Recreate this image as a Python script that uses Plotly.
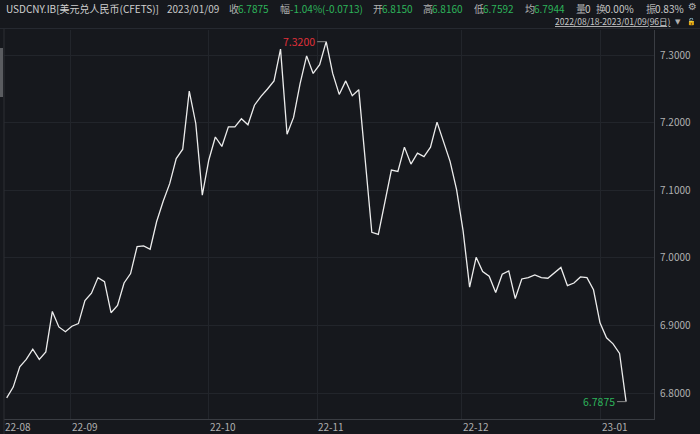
import plotly.graph_objects as go

# ---- data ----
values = [6.793, 6.809, 6.839, 6.850, 6.865, 6.850, 6.861, 6.921, 6.898, 6.891,
          6.899, 6.903, 6.937, 6.948, 6.971, 6.965, 6.919, 6.930, 6.963, 6.977,
          7.017, 7.018, 7.013, 7.054, 7.084, 7.110, 7.147, 7.161, 7.247, 7.199,
          7.093, 7.145, 7.179, 7.165, 7.194, 7.194, 7.206, 7.197, 7.226, 7.239,
          7.250, 7.262, 7.309, 7.183, 7.208, 7.258, 7.299, 7.273, 7.286, 7.320,
          7.273, 7.242, 7.262, 7.240, 7.249, 7.143, 7.038, 7.035, 7.083, 7.130,
          7.128, 7.164, 7.139, 7.155, 7.150, 7.164, 7.201, 7.172, 7.143, 7.101,
          7.040, 6.957, 7.001, 6.980, 6.973, 6.949, 6.976, 6.981, 6.940, 6.969,
          6.971, 6.975, 6.971, 6.970, 6.978, 6.986, 6.959, 6.963, 6.972, 6.971,
          6.953, 6.904, 6.882, 6.873, 6.8588, 6.7875]
idx = list(range(len(values)))
month_labels = ["22-08", "22-09", "22-10", "22-11", "22-12", "23-01"]
month_pos = [-0.35, 9.85, 31.0, 47.6, 69.8, 91.1]
y_ticks = [6.8, 6.9, 7.0, 7.1, 7.2, 7.3]

BG = "#16181d"
GRID = "#22252b"
AX = "#3a3d43"
TXT = "#b0b0b0"
GREEN = "#2db35a"
RED = "#e0303a"
FONT = "Noto Sans CJK SC"

# plot box in pixels
L, R, T, B = 4, 654, 30, 419
W, H = 700, 434
XR = [-0.414, 99.28]
YR = [6.7618, 7.3373]

def px(x):
    return (x - L) / (R - L)

def py(y):
    return (B - y) / (B - T)

def xpaper(v):
    return (v - XR[0]) / (XR[1] - XR[0])

fig = go.Figure()
fig.add_trace(go.Scatter(x=idx, y=values, mode="lines",
                         line=dict(color="#ececec", width=1.3),
                         hoverinfo="skip", showlegend=False))

ann = []
# max / min markers
imax = max(idx, key=lambda i: values[i])
imin = min(idx, key=lambda i: values[i])
ann.append(dict(x=imax, y=values[imax], xref="x", yref="y", text="%.4f" % values[imax],
                showarrow=True, arrowhead=0, arrowcolor="#8a8a8a", arrowwidth=1,
                ax=-9, ay=0, xanchor="right", font=dict(color=RED, size=10.5, family=FONT)))
ann.append(dict(x=imin, y=values[imin], xref="x", yref="y", text="%.4f" % values[imin],
                showarrow=True, arrowhead=0, arrowcolor="#8a8a8a", arrowwidth=1,
                ax=-9, ay=0, xanchor="right", font=dict(color=GREEN, size=10.5, family=FONT)))

# month labels (left aligned at gridlines)
for lab, pos in zip(month_labels, month_pos):
    ann.append(dict(x=xpaper(pos), y=py(426), xref="paper", yref="paper", text=lab,
                    showarrow=False, xanchor="left", yanchor="middle", borderpad=0,
                    font=dict(color=TXT, size=10, family=FONT)))

# header line 1
header = [
    (5, "USDCNY.IB[美元兑人民币(CFETS)]", "#d0d0d0"),
    (166, "2023/01/09", "#c8c8c8"),
    (228, "收", "#b0b0b0"),
    (237, "6.7875", GREEN),
    (279, "幅", "#b0b0b0"),
    (289, "-1.04%(-0.0713)", GREEN),
    (372, "开", "#b0b0b0"),
    (381, "6.8150", GREEN),
    (422, "高", "#b0b0b0"),
    (431, "6.8160", GREEN),
    (473, "低", "#b0b0b0"),
    (482, "6.7592", GREEN),
    (524, "均", "#b0b0b0"),
    (533, "6.7944", GREEN),
    (575, "量", "#b0b0b0"),
    (584, "0", "#c8c8c8"),
    (595, "换", "#b0b0b0"),
    (604, "0.00%", "#c8c8c8"),
    (645, "振", "#b0b0b0"),
    (654, "0.83%", "#c8c8c8"),
]
for x0, t, c in header:
    ann.append(dict(x=px(x0), y=py(0), xref="paper", yref="paper", text=t, showarrow=False,
                    xanchor="left", yanchor="top", borderpad=0,
                    font=dict(color=c, size=10, family=FONT)))
ann.append(dict(x=px(692), y=py(0), xref="paper", yref="paper", text="⚙", showarrow=False,
                xanchor="center", yanchor="top", borderpad=0,
                font=dict(color="#b0b0b0", size=10, family="DejaVu Sans")))
# header line 2
ann.append(dict(x=px(672), y=py(28.5), xref="paper", yref="paper",
                text="<u>2022/08/18-2023/01/09(96日)</u>", showarrow=False, borderpad=0,
                xanchor="right", yanchor="bottom", font=dict(color="#c8c8c8", size=8.5, family=FONT)))
ann.append(dict(x=px(678), y=py(27), xref="paper", yref="paper", text="▼", showarrow=False,
                xanchor="center", yanchor="bottom", borderpad=0,
                font=dict(color="#b0b0b0", size=7, family="DejaVu Sans")))
ann.append(dict(x=px(691), y=py(27), xref="paper", yref="paper", text="🔓", showarrow=False,
                xanchor="center", yanchor="bottom", borderpad=0,
                font=dict(color="#e0a020", size=7, family="DejaVu Sans")))

shapes = [
    dict(type="line", xref="paper", yref="paper", x0=px(0), x1=px(700), y0=py(28.5), y1=py(28.5),
         line=dict(color="#262930", width=1)),
    dict(type="line", xref="paper", yref="paper", x0=px(4), x1=px(4), y0=py(29), y1=py(434),
         line=dict(color="#2c2f35", width=1)),
    dict(type="rect", xref="paper", yref="paper", x0=px(0), x1=px(3), y0=py(97), y1=py(48),
         fillcolor="#5a5c60", line=dict(width=0)),
]

fig.update_layout(
    width=W, height=H,
    margin=dict(l=L, r=W - R, t=T, b=H - B),
    paper_bgcolor=BG, plot_bgcolor=BG,
    xaxis=dict(range=XR, tickvals=month_pos, showticklabels=False,
               showgrid=True, gridcolor=GRID, gridwidth=1, zeroline=False,
               showline=True, linecolor=AX, linewidth=1, mirror=False, fixedrange=True),
    yaxis=dict(range=YR, side="right", tickvals=y_ticks,
               ticktext=["%.4f" % v for v in y_ticks],
               tickfont=dict(color=TXT, size=10, family=FONT),
               showgrid=True, gridcolor=GRID, gridwidth=1, zeroline=False,
               showline=True, linecolor=AX, linewidth=1, ticks="", ticklabelstandoff=3,
               fixedrange=True),
    annotations=ann, shapes=shapes,
)

fig.write_html("out.html")
